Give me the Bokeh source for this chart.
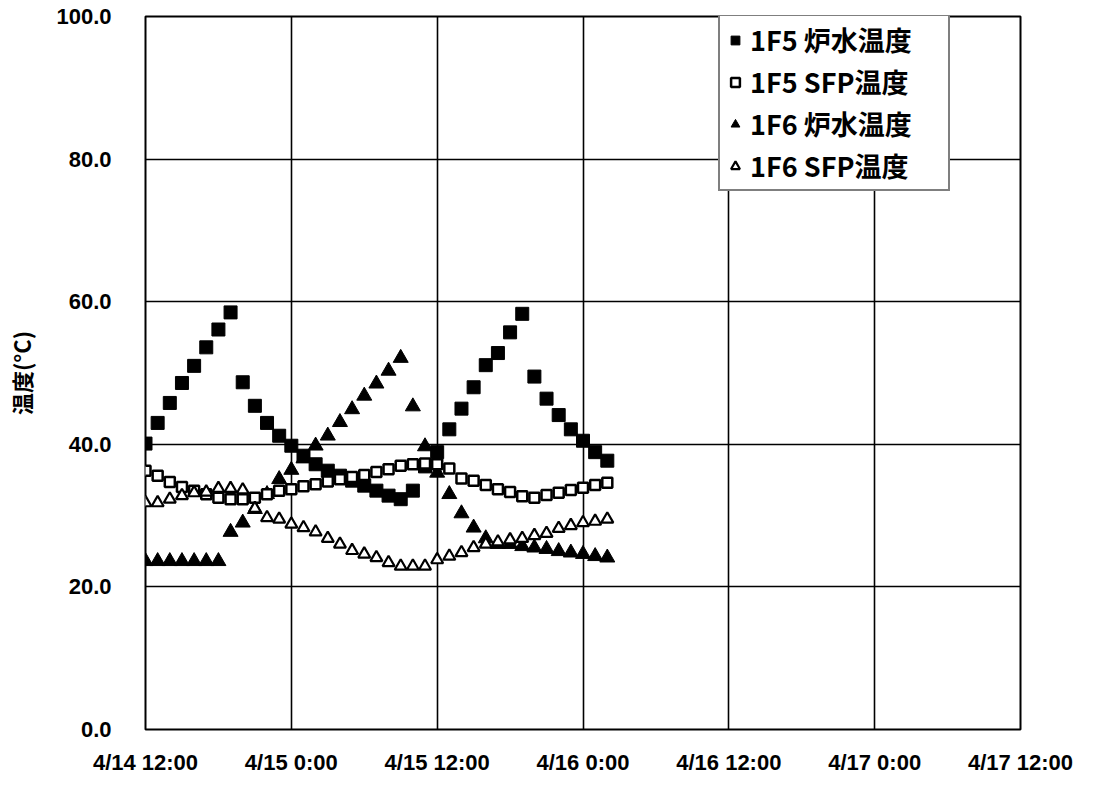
from bokeh.plotting import figure
from bokeh.models import FixedTicker, PrintfTickFormatter, Legend, LegendItem, ColumnDataSource
from bokeh.embed import file_html
from bokeh.resources import INLINE

# hours elapsed since 4/14 12:00 (hourly readings)
hours = list(range(39))

f5_reactor = [40.1, 43.0, 45.8, 48.6, 51.0, 53.6, 56.1, 58.5, 48.7, 45.4,
              43.0, 41.2, 39.8, 38.4, 37.2, 36.3, 35.6, 34.9, 34.2, 33.5,
              32.8, 32.3, 33.5, 36.9, 38.9, 42.1, 45.0, 48.0, 51.1, 52.8,
              55.7, 58.3, 49.5, 46.4, 44.1, 42.1, 40.5, 38.9, 37.7]
f5_sfp = [36.3, 35.6, 34.7, 34.0, 33.5, 33.0, 32.5, 32.3, 32.3, 32.5,
          33.0, 33.5, 33.7, 34.1, 34.4, 34.8, 35.1, 35.4, 35.7, 36.1,
          36.5, 37.0, 37.2, 37.3, 37.2, 36.6, 35.2, 34.9, 34.3, 33.7,
          33.3, 32.7, 32.5, 32.9, 33.2, 33.6, 33.9, 34.3, 34.6]
f6_reactor = [23.6, 23.6, 23.6, 23.6, 23.6, 23.6, 23.6, 27.7, 29.0, 30.9,
              33.0, 35.1, 36.4, 38.0, 39.8, 41.2, 43.1, 44.9, 46.8, 48.5,
              50.3, 52.1, 45.3, 39.7, 36.0, 33.0, 30.3, 28.3, 26.8, 26.0,
              26.0, 25.7, 25.5, 25.3, 25.0, 24.8, 24.6, 24.3, 24.1]
f6_sfp = [31.8, 31.8, 32.3, 32.8, 33.2, 33.3, 33.8, 33.8, 33.6, 31.0,
          29.7, 29.5, 28.8, 28.3, 27.7, 26.8, 26.0, 25.1, 24.6, 24.1,
          23.4, 22.9, 22.9, 22.9, 23.8, 24.3, 24.8, 25.5, 26.0, 26.3,
          26.6, 26.8, 27.2, 27.5, 28.2, 28.6, 29.0, 29.2, 29.5]

series_labels = ["1F5 炉水温度", "1F5 SFP温度", "1F6 炉水温度", "1F6 SFP温度"]
x_tick_hours = [0, 12, 24, 36, 48, 60, 72]
x_tick_labels = ["4/14 12:00", "4/15 0:00", "4/15 12:00", "4/16 0:00",
                 "4/16 12:00", "4/17 0:00", "4/17 12:00"]
y_ticks = [0, 20, 40, 60, 80, 100]

src = ColumnDataSource(dict(h=hours, f5r=f5_reactor, f5s=f5_sfp,
                            f6r=f6_reactor, f6s=f6_sfp))

p = figure(width=1095, height=780, output_backend="svg", toolbar_location=None,
           tools="", x_range=(0, 72), y_range=(0, 100),
           min_border_left=145, min_border_right=75, min_border_top=16,
           min_border_bottom=51)
p.background_fill_color = "white"
p.border_fill_color = "white"
p.outline_line_color = "black"
p.outline_line_width = 2

tick_font = "Liberation Sans"
for ax in (p.xaxis[0], p.yaxis[0]):
    ax.axis_line_color = None
    ax.major_tick_line_color = None
    ax.minor_tick_line_color = None
    ax.major_label_text_font = tick_font
    ax.major_label_text_font_style = "bold"
    ax.major_label_text_font_size = "22px"
    ax.major_label_text_color = "black"

p.xaxis.ticker = FixedTicker(ticks=x_tick_hours)
p.xaxis.major_label_overrides = {h: l for h, l in zip(x_tick_hours, x_tick_labels)}
p.xaxis.major_label_standoff = 14

p.yaxis.ticker = FixedTicker(ticks=y_ticks)
p.yaxis.formatter = PrintfTickFormatter(format="%.1f")
p.yaxis.major_label_standoff = 28
p.yaxis.axis_label = "温度(°C)"
p.yaxis.axis_label_text_font = "Noto Sans CJK JP"
p.yaxis.axis_label_text_font_style = "bold"
p.yaxis.axis_label_text_font_size = "22px"
p.yaxis.axis_label_text_color = "black"
p.yaxis.axis_label_standoff = 16

p.xgrid.ticker = FixedTicker(ticks=x_tick_hours[1:-1])
p.ygrid.ticker = FixedTicker(ticks=y_ticks[1:-1])
for g in (p.xgrid[0], p.ygrid[0]):
    g.grid_line_color = "black"
    g.grid_line_width = 1.6

r1 = p.scatter("h", "f5r", source=src, marker="square", size=13,
               fill_color="black", line_color="black")
r3 = p.scatter("h", "f6r", source=src, marker="triangle", size=15,
               fill_color="black", line_color="black")
r2 = p.scatter("h", "f5s", source=src, marker="square", size=10,
               fill_color="white", line_color="black", line_width=2.5)
r4 = p.scatter("h", "f6s", source=src, marker="triangle", size=12,
               fill_color="white", line_color="black", line_width=2.2)

legend = Legend(items=[LegendItem(label=series_labels[0], renderers=[r1]),
                       LegendItem(label=series_labels[1], renderers=[r2]),
                       LegendItem(label=series_labels[2], renderers=[r3]),
                       LegendItem(label=series_labels[3], renderers=[r4])],
                location=(573, 538), margin=0, padding=4, spacing=3,
                label_height=36, label_width=194, glyph_width=22,
                glyph_height=22, label_standoff=4,
                label_text_font="Noto Sans CJK JP",
                label_text_font_style="bold",
                label_text_font_size="27px",
                label_text_color="black",
                border_line_color="black", border_line_width=2,
                background_fill_color="white", background_fill_alpha=1.0)
p.add_layout(legend, "center")

open("out.html", "w").write(file_html(p, INLINE))
